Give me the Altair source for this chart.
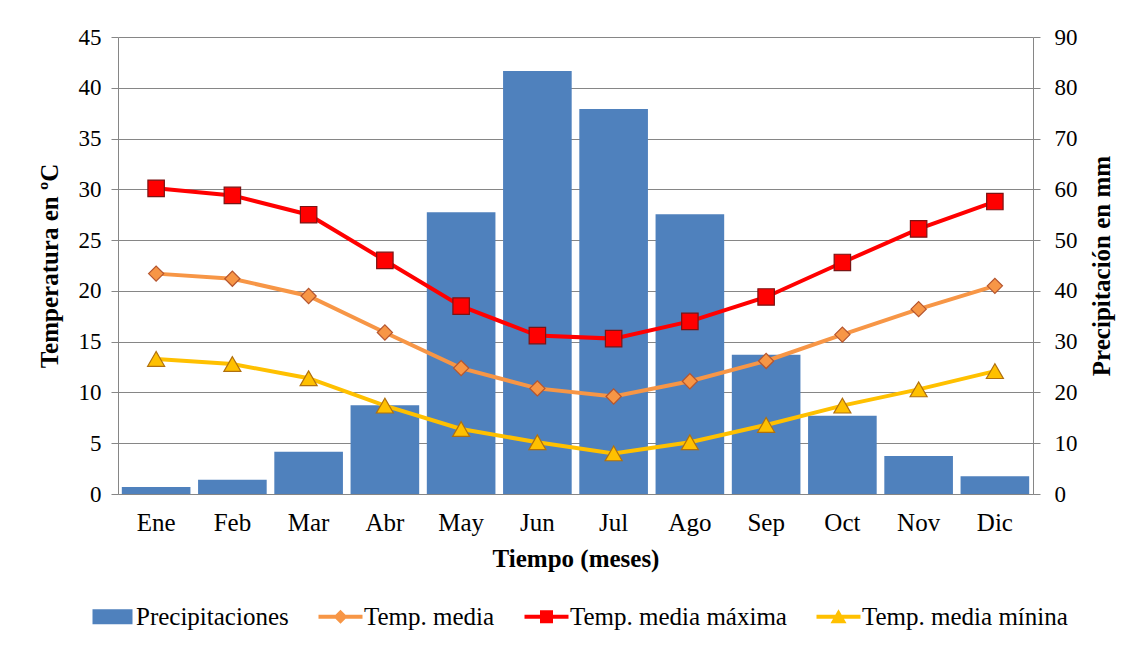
import altair as alt
import pandas as pd

meses = ["Ene", "Feb", "Mar", "Abr", "May", "Jun", "Jul", "Ago", "Sep", "Oct", "Nov", "Dic"]
precip = [1.4, 2.8, 8.3, 17.5, 55.5, 83.3, 75.8, 55.1, 27.4, 15.4, 7.5, 3.5]
t_media = [21.7, 21.2, 19.5, 15.9, 12.4, 10.4, 9.6, 11.1, 13.1, 15.7, 18.2, 20.5]
t_max = [30.1, 29.4, 27.5, 23.0, 18.5, 15.6, 15.3, 17.0, 19.4, 22.8, 26.1, 28.8]
t_min = [13.3, 12.8, 11.4, 8.7, 6.4, 5.1, 4.0, 5.1, 6.8, 8.7, 10.3, 12.1]

series = ["Precipitaciones", "Temp. media", "Temp. media máxima", "Temp. media mínina"]
colors = ["#4f81bd", "#f79646", "#ff0000", "#ffc000"]
marker_shapes = ["diamond", "square", "triangle-up"]
marker_sizes = [230, 270, 290]
marker_strokes = ["#b5552f", "#7a1414", "#b0700f"]

# legend symbols (line + marker, or block for the bars)
LINE = "M-2.2,-0.2H2.2V0.2H-2.2Z"
legend_shapes = [
    "M-2.0,-0.75H2.0V0.75H-2.0Z",
    LINE + "M0,-0.7L0.7,0L0,0.7L-0.7,0Z",
    LINE + "M-0.65,-0.65H0.65V0.65H-0.65Z",
    LINE + "M0,-0.75L0.8,0.65H-0.8Z",
]

df_p = pd.DataFrame({"mes": meses, "valor": precip, "serie": series[0]})
temp_series = {series[1]: t_media, series[2]: t_max, series[3]: t_min}
rows = []
for name, vals in temp_series.items():
    for m, v in zip(meses, vals):
        rows.append({"mes": m, "valor": v, "serie": name})
df_t = pd.DataFrame(rows)
df_leg = pd.DataFrame({"mes": [meses[0]] * 4, "valor": [None] * 4, "serie": series})

FONT = "Liberation Serif"
GRAY = "#868686"

x_enc = alt.X(
    "mes:N", sort=meses,
    scale=alt.Scale(paddingInner=0.1, paddingOuter=0.05),
    axis=alt.Axis(title="Tiempo (meses)", labelAngle=0, ticks=False, domainColor=GRAY,
                  labelFont=FONT, titleFont=FONT,
                  labelFontSize=25, labelPadding=16, titleFontSize=25, titleFontWeight="bold",
                  titlePadding=11, labelColor="black", titleColor="black"),
)

color_legend = alt.Legend(title=None, orient="none", direction="horizontal",
                          legendX=-18, legendY=567, labelFont=FONT, labelFontSize=25, symbolSize=400,
                          labelOffset=11, columnPadding=29, symbolStrokeWidth=0,
                          labelColor="black", labelLimit=500)
color_enc = alt.Color("serie:N", scale=alt.Scale(domain=series, range=colors), legend=color_legend)

bars = alt.Chart(df_p).mark_bar().encode(
    x=x_enc,
    y=alt.Y("valor:Q", scale=alt.Scale(domain=[0, 90]),
            axis=alt.Axis(orient="right", title="Precipitación en mm", values=list(range(0, 91, 10)),
                          grid=False, domainColor=GRAY, tickColor=GRAY, tickSize=7,
                          labelFont=FONT, titleFont=FONT,
                          labelFontSize=23, labelPadding=14, titleFontSize=25, titleFontWeight="bold",
                          titleAngle=270, titleBaseline="top", titlePadding=12,
                          labelColor="black", titleColor="black")),
    color=color_enc,
)

y_t = alt.Y("valor:Q", scale=alt.Scale(domain=[0, 45]),
            axis=alt.Axis(orient="left", title="Temperatura en ºC", values=list(range(0, 46, 5)),
                          grid=True, gridColor=GRAY, domainColor=GRAY, tickColor=GRAY, tickSize=7,
                          labelFont=FONT, titleFont=FONT,
                          labelFontSize=23, labelPadding=10, titleFontSize=25, titleFontWeight="bold",
                          titlePadding=16, labelColor="black", titleColor="black"))

lines = alt.Chart(df_t).mark_line(strokeWidth=4).encode(
    x=x_enc, y=y_t, color=color_enc, detail="serie:N",
)

point_layers = []
for name, shp, sz, stc in zip(series[1:], marker_shapes, marker_sizes, marker_strokes):
    point_layers.append(
        alt.Chart(df_t[df_t["serie"] == name]).mark_point(
            filled=True, shape=shp, size=sz, stroke=stc, strokeWidth=1.2, opacity=1
        ).encode(x=x_enc, y=y_t, color=color_enc)
    )

legend_layer = alt.Chart(df_leg).mark_point(filled=True, opacity=1).encode(
    x=x_enc, y=y_t, color=color_enc,
    shape=alt.Shape("serie:N", scale=alt.Scale(domain=series, range=legend_shapes), legend=color_legend),
)

temps = alt.layer(lines, *point_layers, legend_layer)

chart = alt.layer(bars, temps).resolve_scale(y="independent").properties(
    width=915, height=457,
    autosize=alt.AutoSizeParams(type="none"),
    padding={"left": 110, "top": 29, "right": 85, "bottom": 142},
).configure(font=FONT).configure_view(stroke=None)

chart.save("out.html", embed_options={"renderer": "svg", "actions": False})
